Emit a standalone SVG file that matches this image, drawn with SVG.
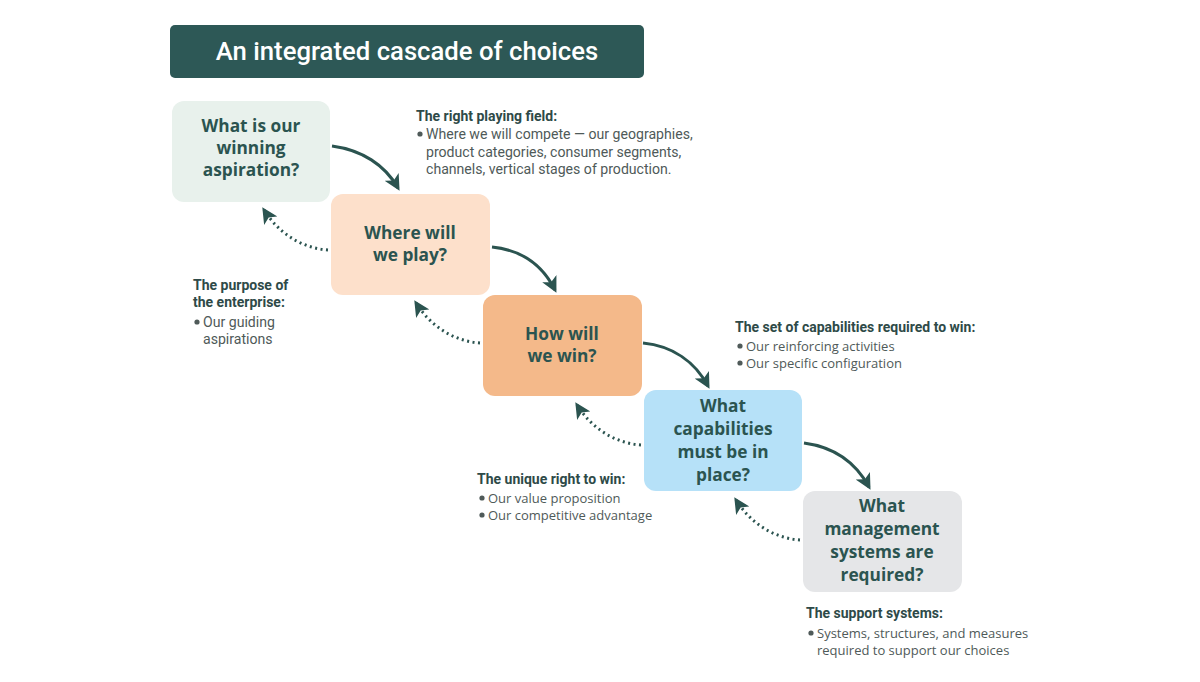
<svg xmlns="http://www.w3.org/2000/svg" width="1200" height="682" viewBox="0 0 1200 682">
<defs>
<marker id="ah" viewBox="0 0 10 10" refX="8" refY="5" markerWidth="5.3" markerHeight="5.3" orient="auto" markerUnits="strokeWidth">
<path d="M0,0 L10,5 L0,10 L2.5,5 Z" fill="#2b5450"/>
</marker>
</defs>
<style>
.box text{font-family:"Open Sans","Liberation Sans",sans-serif;font-weight:700;font-size:17.3px;fill:#2b5450;text-anchor:middle}
.h{font-family:Roboto,"Liberation Sans",sans-serif;font-weight:700;font-size:14px;fill:#2e4a48}
.b{font-family:Roboto,"Liberation Sans",sans-serif;font-size:14.1px;fill:#4f5a59}
.o{font-family:"Open Sans","Liberation Sans",sans-serif;font-size:13px;fill:#4f5a59}
.solid{fill:none;stroke:#2b5450;stroke-width:3;marker-end:url(#ah)}
.dot{fill:none;stroke:#2b5450;stroke-width:3;stroke-dasharray:2 3.5;marker-end:url(#ah)}
</style>
<rect width="1200" height="682" fill="#ffffff"/>
<g id="title">
<rect x="170" y="25" width="474" height="53" rx="5" fill="#2d5856"/>
<text x="407" y="60" text-anchor="middle" font-family="Roboto,'Liberation Sans',sans-serif" font-weight="500" font-size="25.7" fill="#ffffff">An integrated cascade of choices</text>
</g>
<g id="connectors">
<path class="solid" d="M332,146 C362,150 385,165 398,188"/>
<path class="solid" d="M492,247 C522,250 543,266 555,290"/>
<path class="solid" d="M643,343 C673,346 695,362 708,386"/>
<path class="solid" d="M804,443 C834,447 856,463 869,487"/>
<path class="dot" d="M328,250 C300,248 278,232 264,210"/>
<path class="dot" d="M480,343 C452,341 430,325 416,303"/>
<path class="dot" d="M641,445 C613,443 591,427 577,405"/>
<path class="dot" d="M800,540 C772,538 750,522 736,500"/>
</g>
<g id="n1" class="box">
<rect x="172" y="101" width="158" height="101" rx="12" fill="#e8f1ec"/>
<text x="251" y="132">What is our</text>
<text x="251" y="154">winning</text>
<text x="251" y="176">aspiration?</text>
</g>
<g id="n2" class="box">
<rect x="331" y="194" width="159" height="101" rx="12" fill="#fde0cb"/>
<text x="410" y="239">Where will</text>
<text x="410" y="261">we play?</text>
</g>
<g id="n3" class="box">
<rect x="483" y="295" width="159" height="101" rx="12" fill="#f4b98a"/>
<text x="562" y="340">How will</text>
<text x="562" y="362">we win?</text>
</g>
<g id="n4" class="box">
<rect x="644" y="390" width="158" height="101" rx="12" fill="#b6e1f8"/>
<text x="723" y="412">What</text>
<text x="723" y="435">capabilities</text>
<text x="723" y="458">must be in</text>
<text x="723" y="481">place?</text>
</g>
<g id="n5" class="box">
<rect x="803" y="491" width="159" height="101" rx="12" fill="#e5e6e8"/>
<text x="882" y="512">What</text>
<text x="882" y="535">management</text>
<text x="882" y="558">systems are</text>
<text x="882" y="581">required?</text>
</g>
<g id="a1">
<text class="h" x="416" y="121">The right playing field:</text>
<circle cx="420" cy="134" r="2.6" fill="#4f5a59"/>
<text class="b" x="426" y="139">Where we will compete — our geographies,</text>
<text class="b" x="426" y="157">product categories, consumer segments,</text>
<text class="b" x="426" y="174">channels, vertical stages of production.</text>
</g>
<g id="a2">
<text class="h" x="193" y="290">The purpose of</text>
<text class="h" x="193" y="307">the enterprise:</text>
<circle cx="197" cy="322" r="2.6" fill="#4f5a59"/>
<text class="b" x="203" y="327">Our guiding</text>
<text class="b" x="203" y="344">aspirations</text>
</g>
<g id="a3">
<text class="h" x="735" y="332">The set of capabilities required to win:</text>
<circle cx="740" cy="346" r="2.6" fill="#4f5a59"/>
<text class="o" x="746" y="351">Our reinforcing activities</text>
<circle cx="740" cy="363" r="2.6" fill="#4f5a59"/>
<text class="o" x="746" y="368">Our specific configuration</text>
</g>
<g id="a4">
<text class="h" x="477" y="484">The unique right to win:</text>
<circle cx="482" cy="498" r="2.6" fill="#4f5a59"/>
<text class="o" x="488" y="503">Our value proposition</text>
<circle cx="482" cy="515" r="2.6" fill="#4f5a59"/>
<text class="o" x="488" y="520">Our competitive advantage</text>
</g>
<g id="a5">
<text class="h" x="806" y="618">The support systems:</text>
<circle cx="811" cy="633" r="2.6" fill="#4f5a59"/>
<text class="o" x="817" y="638">Systems, structures, and measures</text>
<text class="o" x="817" y="655">required to support our choices</text>
</g>
</svg>
